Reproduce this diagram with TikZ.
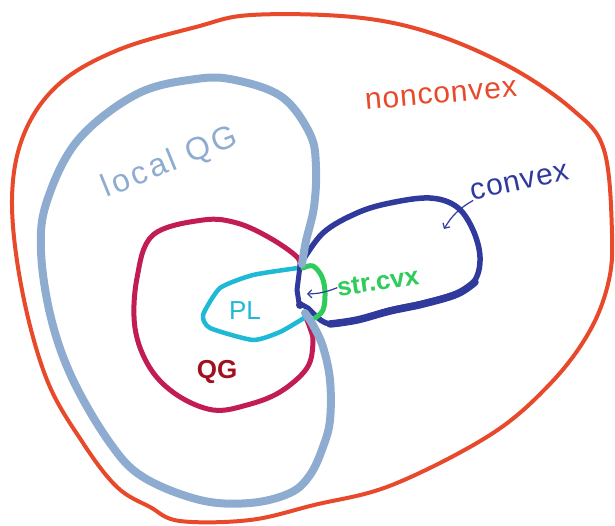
\documentclass[tikz,border=0pt]{standalone}
\usepackage{fontspec}
\setmainfont{Liberation Sans}
\usetikzlibrary{arrows.meta}
\definecolor{cOrange}{HTML}{E8492A}
\definecolor{cLight}{HTML}{8EACCF}
\definecolor{cCrimson}{HTML}{C21C55}
\definecolor{cCyan}{HTML}{1EB9D5}
\definecolor{cGreen}{HTML}{2ECC5A}
\definecolor{cDark}{HTML}{2F3A9C}
\definecolor{cRed}{HTML}{A0101E}
\tikzset{
  curve/.style={line cap=round, line join=round},
  lab/.style={inner sep=0pt, anchor=center},
  pointer/.style={cDark, line width=1.2pt, line cap=round, -{Straight Barb[length=4pt,width=8pt]}}
}
\begin{document}
\begin{tikzpicture}[x=1pt,y=-1pt]
\useasboundingbox (0,0) rectangle (615,525);
% nonconvex (outer)
\draw[curve, cOrange, line width=4pt] plot[smooth cycle, tension=0.6] coordinates {
 (196,27) (251,15) (353,17) (431,33) (510,67) (573,110) (604,150) (612,234) (608,284)
 (588,334) (549,385) (490,435) (392,485) (314,505) (250,520) (180,521) (150,507) (117,487)
 (83,443) (47,380) (22,290) (12,200) (24,134) (59,84) (118,50)};
% QG
\draw[curve, cCrimson, line width=5pt] plot[smooth, tension=0.6] coordinates {
 (300,268) (297,257) (270,238) (237,223) (203,220) (153,235) (137,278) (135,328) (150,368)
 (177,395) (213,410) (247,405) (280,392) (307,368) (313,342) (310,328) (306,318)};
% PL
\draw[curve, cCyan, line width=4.5pt] plot[smooth, tension=0.35] coordinates {
 (298,268) (253,275) (220,288) (203,315) (210,328) (253,340) (280,332) (304,318)};
% convex
\draw[curve, cDark, line width=5.5pt] plot[smooth, tension=0.6] coordinates {
 (300,265) (323,233) (357,213) (390,203) (430,198) (457,207) (473,230) (480,257) (475,280)
 (457,293) (423,303) (390,310) (357,320) (330,324) (317,317)};
\draw[curve, cDark, line width=7.5pt] plot[smooth, tension=0.6] coordinates {
 (475,282) (457,294) (423,304) (390,311) (357,320) (330,324)};
\draw[curve, cDark, line width=5pt] (300,266) -- (297,290) -- (299,303) -- (308,308) -- (317,317);
\fill[cDark] (300,305) circle (4pt);
% strongly convex
\draw[curve, cGreen, line width=5pt] plot[smooth, tension=0.6] coordinates {
 (303,268) (313,266) (322,277) (325,293) (323,310) (315,318)};
% local QG
\draw[curve, cLight, line width=8pt] plot[smooth, tension=0.6] coordinates {
 (302,264) (306,241) (314,207) (316,167) (310,134) (282,97) (235,80) (196,79) (137,94)
 (78,140) (47,201) (41,251) (51,318) (73,380) (110,443) (143,477) (200,500) (250,503)
 (290,493) (310,475) (323,447) (330,420) (330,380) (323,347) (313,325) (305,313)};
% labels
\node[lab, text=cOrange, font=\fontsize{30}{36}\selectfont\addfontfeature{LetterSpace=3}, rotate=5] (nclab) at (441,95) {nonconvex};
\node[lab, text=cDark, font=\fontsize{30}{36}\selectfont\addfontfeature{LetterSpace=3}, rotate=12] (convexlab) at (520,182) {convex};
\node[lab, text=cLight, font=\fontsize{32}{38}\selectfont\addfontfeature{LetterSpace=10}, rotate=22] (locallab) at (170,163) {local QG};
\node[lab, text=cGreen, font=\fontsize{26}{30}\selectfont\bfseries, rotate=8] (strlab) at (378,282) {str.cvx};
\node[lab, text=cCyan, font=\fontsize{26}{30}\selectfont] (pllab) at (245,311) {PL};
\node[lab, text=cRed, font=\fontsize{26}{30}\selectfont\bfseries] (qglab) at (217,372) {QG};
% pointers
\coordinate (strtip) at (307,294);
\coordinate (cvxtip) at (444,229);
\draw[pointer] (strlab.west) to[bend left=10] (strtip);
\draw[pointer] (convexlab.south west) to[bend right=15] (cvxtip);
\end{tikzpicture}
\end{document}
